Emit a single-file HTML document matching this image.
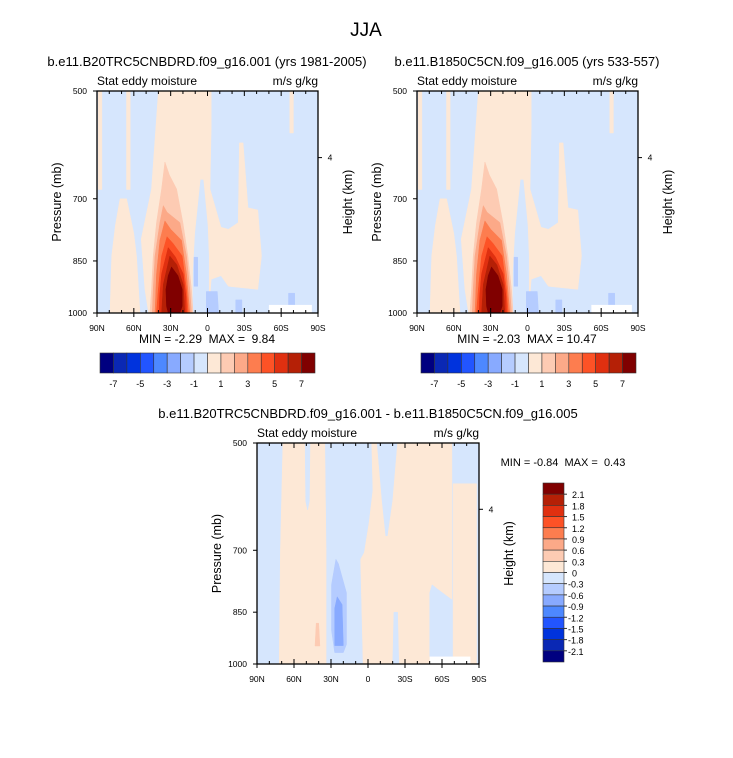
<!DOCTYPE html>
<html><head><meta charset="utf-8"><style>
body{margin:0;background:#fff}
svg{display:block;font-family:"Liberation Sans",sans-serif}
text{white-space:pre}
</style></head><body>
<svg id="s" width="733" height="758" viewBox="0 0 733 758"></svg>
<script>
const latTicks=[90,60,30,0,-30,-60,-90];
const latLabels=["90N","60N","30N","0","30S","60S","90S"];
const presTicks=[500,700,850,1000];
const fullColors=["#000080","#0a28b4","#0033dd","#2255ff","#4d88ff","#88aaff","#b5ccff","#d6e6fd","#fde8d6","#fdcbb3","#fca988","#fd7d4f","#fd5226","#e03010","#b52006","#800000"];
const topCbLabels=["-7","-5","-3","-1","1","3","5","7"];
const diffCbLabels=["2.1","1.8","1.5","1.2","0.9","0.6","0.3","0","-0.3","-0.6","-0.9","-1.2","-1.5","-1.8","-2.1"];
// top panels: filled regions [colorIndex, [[lat,p],...]]
const peachCentral=[[40,500],[-3,500],[-3,560],[-2,679],[-11,765],[-17,770],[-25,754],[-26,588],[-29,588],[-33,720],[-41,725],[-44,837],[-41,929],[-17,920],[-11,890],[-3,900],[-1,1000],[48,1000],[51,929],[54,794],[45.6,679]];
const blueWedge=[[5.5,660],[3.5,660],[0,760],[-1,837],[-1,1000],[12,1000],[11.7,880],[10,780]];
const peachLeft=[[71.3,700],[65.9,700],[60,780],[57.8,837],[55,1000],[79.4,1000],[78,837],[75,760]];
const peachStrip1=[[66,500],[63,500],[63,680],[66,680]];
const peachStrip2=[[-67,500],[-70,500],[-70,570],[-67,570]];
const peachStrip3=[[89,500],[86,500],[86,680],[89,680]];
const core1=[[34.7,624],[31,650],[25.2,679],[20,754],[16,837],[13,929],[11.7,1000],[46.9,1000],[45.6,929],[44.2,837],[41.5,754],[37.4,679]];
const core2=[[36,715],[33,730],[22.5,754],[17.1,837],[14.4,929],[13,1000],[45,1000],[44.2,929],[42.8,837],[38.8,754]];
const core3=[[34.7,750],[30,770],[21.2,797],[17.1,885],[14.4,1000],[42.8,1000],[41.5,885],[38.8,797]];
const core4=[[33,788],[28,805],[20.6,837],[17.1,929],[15.7,1000],[41.5,1000],[40.1,929],[37.4,837]];
const core5=[[32,815],[26,840],[19.8,885],[17.5,950],[17.1,1000],[39.3,1000],[39,950],[37.4,885]];
const core6=[[30.7,837],[25,860],[19.8,915],[18.5,1000],[37.4,1000],[36,915]];
const core7=[[29.3,866],[24,890],[20.6,929],[20.6,979],[22.5,1000],[32,1000],[33.4,979],[33.9,929],[32,890]];
const blue1=[[11,840],[8,840],[8,920],[11,920]];
const blue2=[[1,935],[-8,935],[-9,1000],[1,1000]];
const blue3=[[-23,960],[-28,960],[-28,1000],[-23,1000]];
const blue4=[[-66,940],[-71,940],[-71,980],[-66,980]];
const topRegions=[[8,peachCentral],[7,blueWedge],[8,peachLeft],[8,peachStrip1],[8,peachStrip2],[8,peachStrip3],[6,blue1],[6,blue2],[6,blue3],[6,blue4],
 [9,core1],[10,core2],[11,core3],[12,core4],[13,core5],[14,core6],[15,core7]];
// diff panel
const dA=[[69,500],[35,500],[34,700],[34,1000],[72,1000],[71,700]];
const dAfinger=[[51,500],[47,500],[47.5,600],[49,617],[50.5,600]];
const dB=[[-3,500],[-7,500],[-11,600],[-14,670],[-16,670],[-20,600],[-24,500],[-68,500],[-68,1000],[4,1000],[6,720],[3,705],[-1,640],[-4,580]];
const dBstrip=[[-21,850],[-24,850],[-25,1000],[-20,1000]];
const dBlue3=[[-52,780],[-56,790],[-69,820],[-69,977],[-50,977],[-50,800]];
const dC=[[-69,568],[-88,568],[-88,1000],[-69,1000]];
const dBlue=[[26,720],[24,730],[17.4,800],[17.4,940],[20,965],[27,965],[29.6,900],[29.6,780]];
const dBlue2=[[25,810],[21,830],[20,944],[27,944],[27,840]];
const dRed=[[42,880],[40,880],[39,945],[43,945]];
const diffRegions=[[8,dA],[7,dAfinger],[8,dB],[7,dBstrip],[7,dBlue3],[8,dC],[6,dBlue],[5,dBlue2],[9,dRed]];

const S=document.getElementById('s');
const NS="http://www.w3.org/2000/svg";
function el(tag,attrs,parent){const e=document.createElementNS(NS,tag);for(const k in attrs)e.setAttribute(k,attrs[k]);(parent||S).appendChild(e);return e;}
function txt(x,y,s,size,anchor,rot){const t=el('text',{x:x,y:y,'font-size':size,'text-anchor':anchor||'middle',fill:'#000'});if(rot)t.setAttribute('transform','rotate(-90 '+x+' '+y+')');t.textContent=s;return t;}

function panel(name,x0,y0,w,h,regions,white,title,tcx){
  const xs=lat=>x0+(90-lat)/180*w;
  const ys=p=>y0+Math.log(p/500)/Math.log(2)*h;
  const g=el('g',{});
  
  
  const cp='clip-'+name;
  const c=el('clipPath',{id:cp},g);el('rect',{x:x0,y:y0,width:w,height:h},c);
  const bg=el('rect',{x:x0,y:y0,width:w,height:h,fill:fullColors[7]},g);
  
  
  const rg=el('g',{'clip-path':'url(#'+cp+')'},g);
  regions.forEach(r=>{
    const pts=r[1].map(q=>xs(q[0]).toFixed(1)+','+ys(q[1]).toFixed(1)).join(' ');
    const pg=el('polygon',{points:pts,fill:fullColors[r[0]],stroke:fullColors[r[0]],'stroke-width':0.5,'stroke-linejoin':'round'},rg);
    
    
  });
  el('rect',{x:xs(white[0]),y:ys(white[1]),width:xs(white[2])-xs(white[0]),height:y0+h-ys(white[1]),fill:'#fff'},rg);
  el('rect',{x:x0,y:y0,width:w,height:h,fill:'none',stroke:'#000','stroke-width':1.3},g);
  for(let lat=90;lat>=-90;lat-=10){const X=xs(lat);const L=(lat%30===0)?5:3;
    el('line',{x1:X,y1:y0,x2:X,y2:y0+L,stroke:'#000','stroke-width':1},g);
    el('line',{x1:X,y1:y0+h,x2:X,y2:y0+h-L,stroke:'#000','stroke-width':1},g);
    if(lat%30===0){el('line',{x1:X,y1:y0+h,x2:X,y2:y0+h+4,stroke:'#000'},g);}
  }
  latTicks.forEach((l,i)=>{const t=txt(xs(l),y0+h+18,latLabels[i],8.5);});
  presTicks.forEach(p=>{el('line',{x1:x0-4,y1:ys(p),x2:x0,y2:ys(p),stroke:'#000'},g);
    const t=txt(x0-10,ys(p)+3,String(p),8.5,'end');});
  const hy=y0+0.3*h;
  el('line',{x1:x0+w,y1:hy,x2:x0+w+4,y2:hy,stroke:'#000'},g);
  txt(x0+w+12,hy+3,'4',8.5);
  let t=txt(x0-36,y0+h/2,'Pressure (mb)',12.5,'middle',true);
  t=txt(x0+w+34,y0+h/2,'Height (km)',12.5,'middle',true);
  t=txt(x0,y0-6,'Stat eddy moisture',12,'start');
  t=txt(x0+w,y0-6,'m/s g/kg',12,'end');
  t=txt(tcx,y0-25,title,13);
}
function hbar(name,x0,y0,w,h){
  const g=el('g',{});
  const bw=w/fullColors.length;
  fullColors.forEach((c,i)=>{const r=el('rect',{x:x0+i*bw,y:y0,width:bw,height:h,fill:c,stroke:'#333','stroke-width':0.6},g);});
  topCbLabels.forEach((s,i)=>{txt(x0+(2*i+1)*bw,y0+h+14,s,9);});
}
function vbar(name,x0,y0,w,h){
  const g=el('g',{});
  const bh=h/fullColors.length;
  fullColors.slice().reverse().forEach((c,i)=>{const r=el('rect',{x:x0,y:y0+i*bh,width:w,height:bh,fill:c,stroke:'#333','stroke-width':0.6},g);});
  diffCbLabels.forEach((s,i)=>{const Y=y0+(i+1)*bh;el('line',{x1:x0+w,y1:Y,x2:x0+w+3,y2:Y,stroke:'#333'},g);txt(x0+w+4+(s[0]==='-'?0:4),Y+4,s,9,'start');});
}
let t=txt(366,36,'JJA',19);
panel('left-panel',97,91,221,222,topRegions,[-50,975,-85],'b.e11.B20TRC5CNBDRD.f09_g16.001 (yrs 1981-2005)',207);
panel('right-panel',417,91,221,222,topRegions,[-52,975,-85],'b.e11.B1850C5CN.f09_g16.005 (yrs 533-557)',527);
panel('diff-panel',257,443,222,221,diffRegions,[-50,977,-83],'b.e11.B20TRC5CNBDRD.f09_g16.001 - b.e11.B1850C5CN.f09_g16.005',368);
t=txt(207,343,'MIN = -2.29  MAX =  9.84',12);
t=txt(527,343,'MIN = -2.03  MAX = 10.47',12);
t=txt(563,466,'MIN = -0.84  MAX =  0.43',11);
hbar('left-colorbar',100,353,215,20);
hbar('right-colorbar',421,353,215,20);
vbar('diff-colorbar',543,483,21,179);
</script>
</body></html>
